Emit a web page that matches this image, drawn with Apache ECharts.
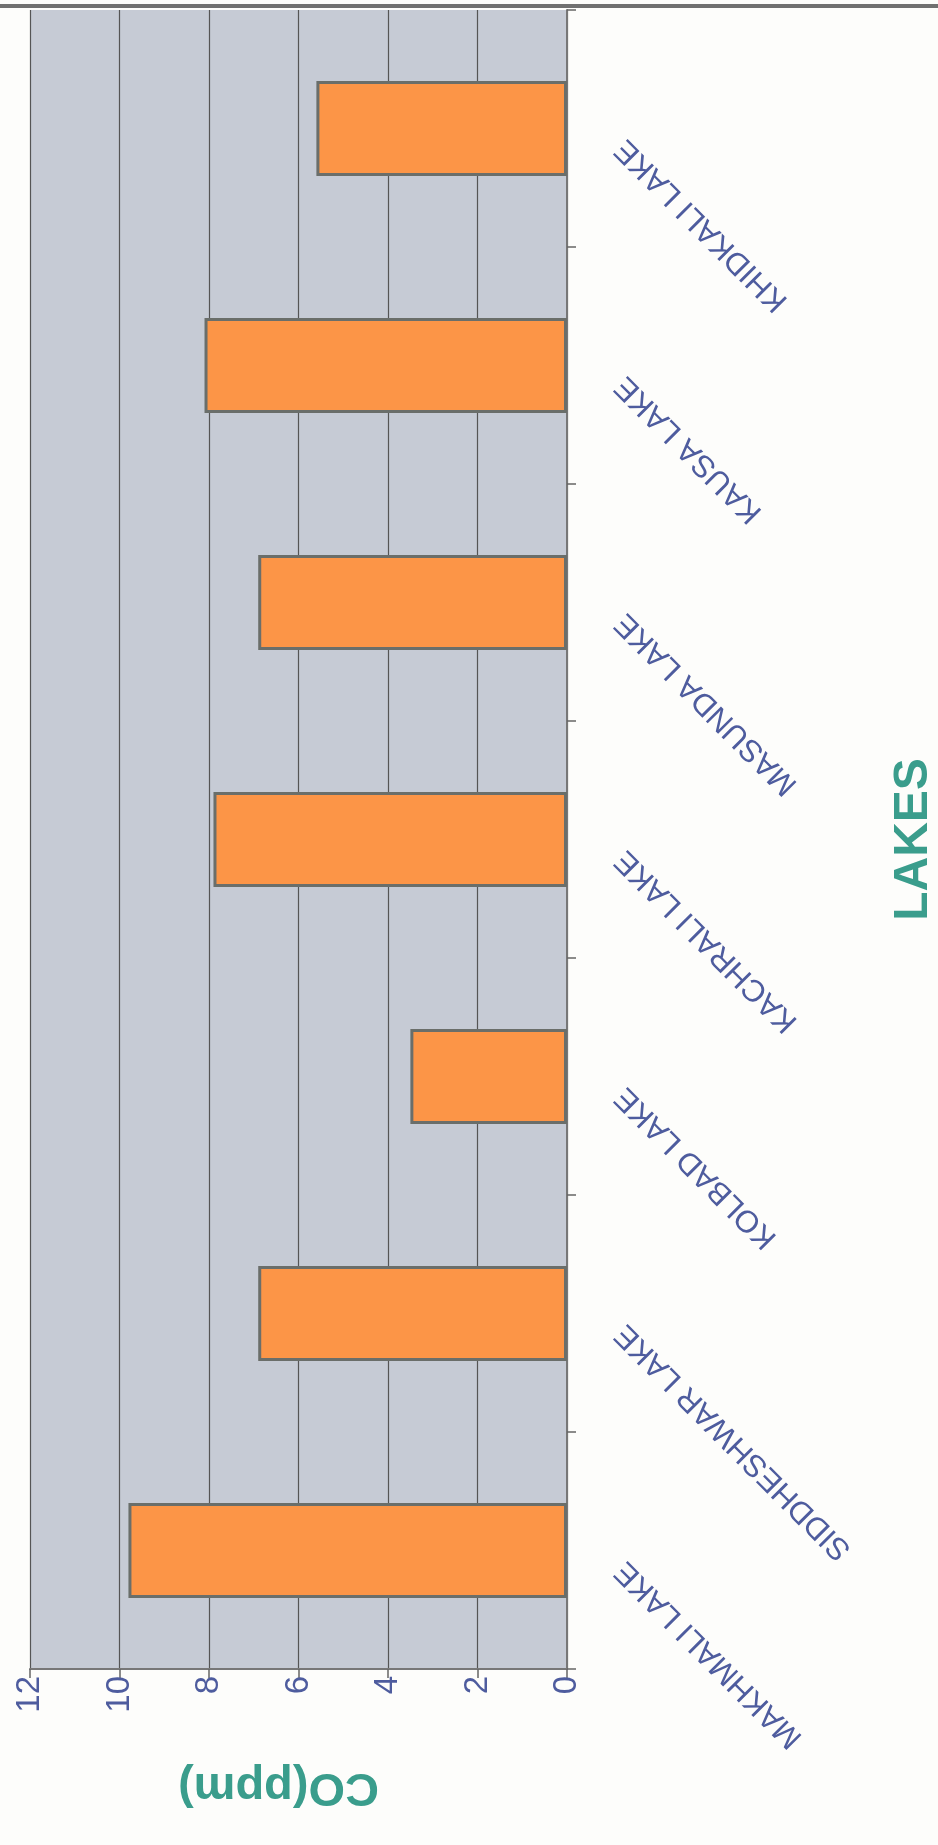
<!DOCTYPE html>
<html>
<head>
<meta charset="utf-8">
<script src="https://cdn.jsdelivr.net/npm/echarts@6/dist/echarts.min.js"></script>
<style>
html,body{margin:0;padding:0;background:#fdfdfb;}
#chart{width:938px;height:1845px;}
</style>
</head>
<body>
<div id="chart"></div>
<script>
const categories = ['MAKHMALI LAKE', 'SIDDHESHWAR LAKE', 'KOLBAD LAKE', 'KACHRALI LAKE', 'MASUNDA LAKE', 'KAUSA LAKE', 'KHIDKALI LAKE'];
const coValues = [9.8, 6.9, 3.5, 7.9, 6.9, 8.1, 5.6];
const valueMin = 0;
const valueMax = 12;
const valueStep = 2;
const valueAxisTitle = 'CO(ppm)';
const categoryAxisTitle = 'LAKES';

const chart = echarts.init(document.getElementById('chart'), null, {renderer: 'canvas'});
chart.setOption({
  backgroundColor: '#fdfdfb',
  animation: false,
  grid: {
    left: 30, right: 371, top: 10, bottom: 176,
    show: true, backgroundColor: '#c6cbd5', borderWidth: 0,
    outerBoundsMode: 'none'
  },
  graphic: [{
    type: 'line', shape: {x1: 0, y1: 6, x2: 938, y2: 6},
    style: {stroke: '#707070', lineWidth: 4}
  }],
  xAxis: {
    type: 'value', inverse: true, position: 'bottom',
    min: valueMin, max: valueMax, interval: valueStep,
    name: valueAxisTitle, nameLocation: 'middle', nameRotate: 180, nameGap: 94,
    nameMoveOverlap: false,
    nameTextStyle: {color: '#3a9d8c', fontSize: 47, fontWeight: 'bold', fontFamily: 'Liberation Sans', padding: [0, 0, 0, 40]},
    axisLine: {show: true, lineStyle: {color: '#777', width: 2}},
    axisTick: {show: true, length: 9, lineStyle: {color: '#666', width: 1.5}},
    axisLabel: {rotate: 90, margin: 7, color: '#4e5c9e', fontSize: 33, fontFamily: 'Liberation Sans'},
    splitLine: {show: true, lineStyle: {color: '#555', width: 1.2}}
  },
  yAxis: {
    type: 'category', position: 'right', data: categories,
    name: categoryAxisTitle, nameLocation: 'middle', nameRotate: 90, nameGap: 323,
    nameMoveOverlap: false,
    nameTextStyle: {color: '#3a9d8c', fontSize: 48, fontWeight: 'bold', fontFamily: 'Liberation Sans'},
    axisLine: {show: true, lineStyle: {color: '#777', width: 2}},
    axisTick: {show: true, length: 9, lineStyle: {color: '#666', width: 1.5}},
    axisLabel: {rotate: 135, margin: 38, color: '#4e5c9e', fontSize: 31, fontFamily: 'Liberation Sans', padding: [0, 22, 46, 0], interval: 0},
    splitLine: {show: false}
  },
  series: [{
    type: 'bar', data: coValues, barWidth: '40%',
    itemStyle: {color: '#fc9547', borderColor: '#6a6e6a', borderWidth: 3}
  }]
});
</script>
</body>
</html>
